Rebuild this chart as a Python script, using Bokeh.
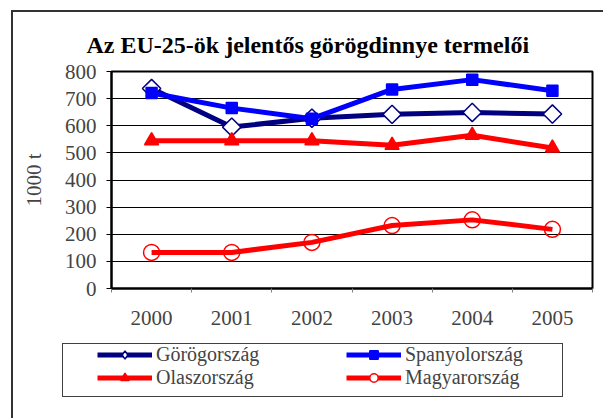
from bokeh.plotting import figure
from bokeh.layouts import column
from bokeh.models import Range1d, FixedTicker, Legend, LegendItem, InlineStyleSheet
from bokeh.embed import file_html
from bokeh.resources import INLINE
import numpy as np

years = ["2000", "2001", "2002", "2003", "2004", "2005"]
gorog = [737, 595, 628, 642, 649, 643]
spany = [721, 665, 626, 734, 770, 729]
olasz = [545, 545, 545, 528, 565, 518]
magyar = [133, 133, 170, 232, 253, 218]
series_names = ["Görögország", "Spanyolország", "Olaszország", "Magyarország"]
y_ticks = [0, 100, 200, 300, 400, 500, 600, 700, 800]

FONT = "Liberation Serif"
NAVY = "#000080"
BLUE = "#0000FF"
RED = "#FF0000"
LW = 5
xs = [i + 0.5 for i in range(len(years))]
series = [gorog, spany, olasz, magyar]
colors = [NAVY, BLUE, RED, RED]
markers = ["square", "square", "triangle", "circle"]
angles = [np.pi / 4, 0, 0, 0]
sizes = [13, 11, 14, 16]
fills = ["white", BLUE, RED, None]

# ---------------- main chart ----------------
p = figure(width=603, height=335, output_backend="svg", toolbar_location=None,
           x_range=Range1d(0, len(years)), y_range=Range1d(0, 800),
           min_border_left=111, min_border_right=11, min_border_top=71, min_border_bottom=47)
p.frame_align = False

p.title.text = "Az EU-25-ök jelentős görögdinnye termelői"
p.title.text_font = FONT
p.title.text_font_size = "24px"
p.title.text_font_style = "bold"
p.title.align = "left"
p.title.offset = -25
p.title.standoff = 27
p.title.text_color = "black"

p.outline_line_color = "black"
p.outline_line_width = 2
p.background_fill_color = "white"
p.border_fill_color = "white"

p.xgrid.grid_line_color = None
p.ygrid.grid_line_color = "black"
p.ygrid.grid_line_width = 1
p.ygrid.ticker = FixedTicker(ticks=y_ticks)

p.yaxis.ticker = FixedTicker(ticks=y_ticks)
p.yaxis.axis_label = "1000 t"
p.yaxis.axis_label_text_font = FONT
p.yaxis.axis_label_text_font_size = "21px"
p.yaxis.axis_label_text_font_style = "normal"
p.yaxis.axis_label_standoff = 16
p.yaxis.major_label_text_font = FONT
p.yaxis.major_label_text_font_size = "21px"
p.yaxis.major_label_standoff = 10
p.yaxis.major_tick_out = 5
p.yaxis.major_tick_in = 0
p.yaxis.minor_tick_line_color = None
p.yaxis.axis_line_color = "black"
p.yaxis.axis_line_width = 2
p.yaxis.major_tick_line_color = "black"

p.xaxis.ticker = FixedTicker(ticks=xs, minor_ticks=list(range(len(years) + 1)))
p.xaxis.major_label_overrides = {x: y for x, y in zip(xs, years)}
p.xaxis.major_label_text_font = FONT
p.xaxis.major_label_text_font_size = "21px"
p.xaxis.major_label_standoff = 16
p.xaxis.major_tick_line_color = None
p.xaxis.minor_tick_line_color = "#808080"
p.xaxis.minor_tick_out = 4
p.xaxis.minor_tick_in = 0
p.xaxis.axis_line_color = "black"
p.xaxis.axis_line_width = 2

for vals, c, m, a, s, f in zip(series, colors, markers, angles, sizes, fills):
    p.line(xs, vals, line_color=c, line_width=LW)
    p.scatter(xs, vals, marker=m, angle=a, size=s, fill_color=f,
              line_color=c, line_width=1.5)

css_top = """
:host { position: relative; overflow: hidden; }
:host::before { content: ""; position: absolute; left: 11px; top: 10px; right: -10px; bottom: -10px;
  border: 2px solid #333333; box-sizing: border-box; pointer-events: none; z-index: 10; }
"""
p.stylesheets = [InlineStyleSheet(css=css_top)]

# ---------------- legend strip ----------------
# same series, drawn with ranges that keep them out of view: only the legend shows
q = figure(width=603, height=83, output_backend="svg", toolbar_location=None,
           x_range=Range1d(100, 101), y_range=Range1d(-20, -10),
           x_axis_location=None, y_axis_location=None, min_border=0)
q.frame_align = False
q.outline_line_color = None
q.xgrid.visible = False
q.ygrid.visible = False
q.background_fill_color = "white"
q.border_fill_color = "white"

leg_markers = ["diamond", "square", "triangle", "circle"]
leg_fills = ["white", BLUE, RED, "white"]
leg_sizes = [12, 9, 11, 8]
items = []
for name, vals, c, m, f, s in zip(series_names, series, colors, leg_markers, leg_fills, leg_sizes):
    lr = q.line(xs, vals, line_color=c, line_width=LW)
    sr = q.scatter(xs, vals, marker=m, size=s, fill_color=f, line_color=c, line_width=1.5)
    items.append(LegendItem(label=name, renderers=[lr, sr]))

legend = Legend(items=items, orientation="horizontal", ncols=2, location=(97, 29))
legend.label_text_font = FONT
legend.label_text_font_size = "20px"
legend.label_height = 21
legend.glyph_height = 21
legend.glyph_width = 55
legend.label_standoff = 4
legend.label_width = 190
legend.spacing = 0
legend.padding = 0
legend.margin = 0
legend.border_line_color = None
legend.background_fill_alpha = 0
q.add_layout(legend, "center")

css_bottom = """
:host { position: relative; overflow: hidden; }
:host::before { content: ""; position: absolute; left: 11px; top: -10px; right: -10px; bottom: -10px;
  border: 2px solid #333333; box-sizing: border-box; pointer-events: none; z-index: 10; }
:host::after { content: ""; position: absolute; left: 62px; top: 8px; width: 501px; height: 54px;
  border: 1px solid #404040; box-sizing: border-box; pointer-events: none; z-index: 10; }
"""
q.stylesheets = [InlineStyleSheet(css=css_bottom)]

layout = column(p, q, spacing=0)
open("out.html", "w").write(file_html(layout, INLINE))
